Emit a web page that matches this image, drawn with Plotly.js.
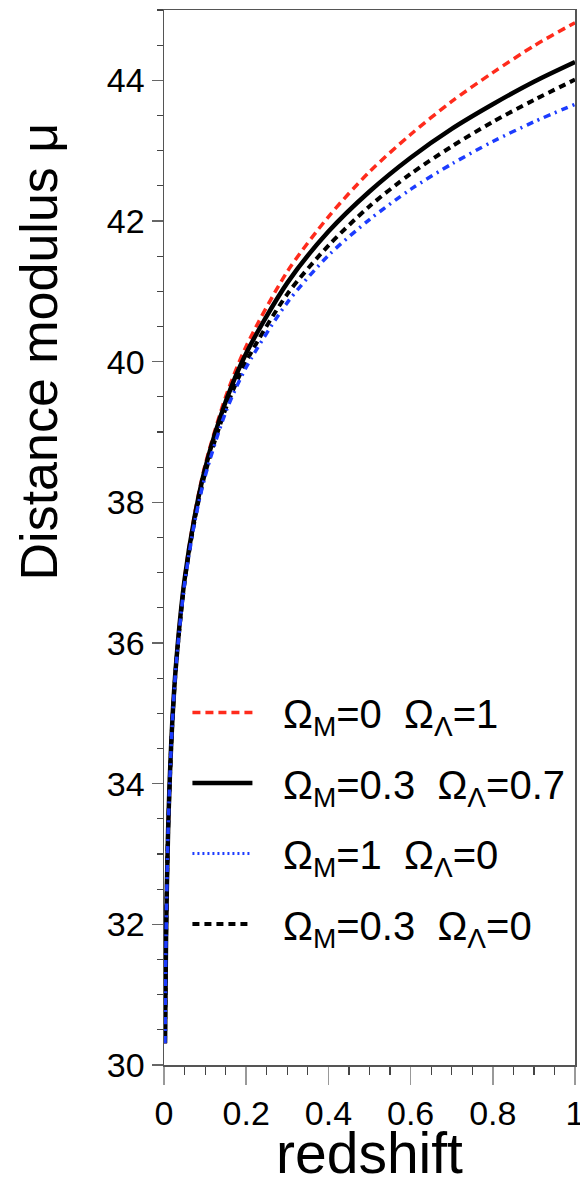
<!DOCTYPE html>
<html>
<head>
<meta charset="utf-8">
<script src="https://cdn.plot.ly/plotly-3.0.1.min.js"></script>
<style>html,body{margin:0;padding:0;background:#fff;}#chart{width:580px;height:1178px;}</style>
</head>
<body>
<div id="chart"></div>
<script>
// redshift sample points
var redshift = [0.0025, 0.005, 0.01, 0.02, 0.03, 0.05, 0.075, 0.1, 0.15, 0.2, 0.3, 0.4, 0.5, 0.6, 0.7, 0.8, 0.9, 1.0];
// distance modulus for each cosmology
var muM0L1   = [30.31, 31.82, 33.34, 34.87, 35.77, 36.92, 37.85, 38.53, 39.50, 40.22, 41.28, 42.06, 42.70, 43.23, 43.70, 44.11, 44.49, 44.82];
var muM03L07 = [30.31, 31.82, 33.34, 34.86, 35.75, 36.90, 37.81, 38.48, 39.43, 40.12, 41.12, 41.85, 42.42, 42.90, 43.31, 43.66, 43.98, 44.26];
var muM1L0   = [30.31, 31.82, 33.33, 34.84, 35.72, 36.84, 37.73, 38.37, 39.28, 39.92, 40.84, 41.51, 42.02, 42.45, 42.81, 43.13, 43.41, 43.66];
var muM03L0  = [30.31, 31.82, 33.33, 34.84, 35.73, 36.86, 37.76, 38.41, 39.33, 40.00, 40.96, 41.65, 42.21, 42.67, 43.06, 43.41, 43.72, 44.01];
var seriesNames = [
  "\u00a0\u00a0\u200a\u03A9<sub>M</sub>=0\u00a0\u00a0\u03A9<sub>\u039B</sub>=1",
  "\u00a0\u00a0\u200a\u03A9<sub>M</sub>=0.3\u00a0\u00a0\u03A9<sub>\u039B</sub>=0.7",
  "\u00a0\u00a0\u200a\u03A9<sub>M</sub>=1\u00a0\u00a0\u03A9<sub>\u039B</sub>=0",
  "\u00a0\u00a0\u200a\u03A9<sub>M</sub>=0.3\u00a0\u00a0\u03A9<sub>\u039B</sub>=0"
];
var xTickVals = [0, 0.2, 0.4, 0.6, 0.8, 1];
var xTickText = ["0", "0.2", "0.4", "0.6", "0.8", "1"];
var yTickVals = [30, 32, 34, 36, 38, 40, 42, 44];

var RED = "#ff2b1c", BLUE = "#1c3cff";
var FONT = "Liberation Sans, Arial, Helvetica, sans-serif";

var traces = [
  {x: redshift, y: muM0L1, name: seriesNames[0], mode: "lines", legendgroup: "a",
   line: {color: RED, width: 3.5, dash: "8px,5px", shape: "spline", smoothing: 0.8}},
  {x: redshift, y: muM03L07, name: seriesNames[1], mode: "lines", legendgroup: "b",
   line: {color: "#000", width: 4.5, shape: "spline", smoothing: 0.8}},
  {x: [null], y: [null], name: seriesNames[2], mode: "lines", legendgroup: "c",
   line: {color: BLUE, width: 3, dash: "2px,3px"}},
  {x: redshift, y: muM03L0, name: seriesNames[3], mode: "lines", legendgroup: "d",
   line: {color: "#000", width: 4, dash: "7px,5px", shape: "spline", smoothing: 0.8}},
  {x: redshift, y: muM1L0, name: seriesNames[2], mode: "lines", showlegend: false, legendgroup: "c",
   line: {color: BLUE, width: 3.5, dash: "7px,5px,2px,5px", shape: "spline", smoothing: 0.8}}
];

var axisCommon = {
  showline: true, linecolor: "#555", linewidth: 1.5, mirror: true,
  showgrid: false, zeroline: false, ticks: "outside", tickcolor: "#444",
  tickfont: {family: FONT, size: 34, color: "#000"}, ticklabeloverflow: "allow"
};

var layout = {
  width: 580, height: 1178,
  margin: {l: 164, r: 5, t: 10, b: 113},
  paper_bgcolor: "#fff", plot_bgcolor: "#fff",
  font: {family: FONT, color: "#000"},
  showlegend: true,
  legend: {
    x: 0.057, y: 0.365, xanchor: "left", yanchor: "top",
    bgcolor: "rgba(0,0,0,0)", borderwidth: 0,
    font: {family: FONT, size: 40, color: "#000"},
    itemwidth: 60, tracegroupgap: 15.5, traceorder: "grouped"
  },
  xaxis: Object.assign({}, axisCommon, {
    range: [0, 1], tickvals: xTickVals, ticktext: xTickText,
    ticklen: 18, tickcolor: "#999", tickwidth: 1.5,
    minor: {dtick: 0.05, ticklen: 8, tickcolor: "#444", ticks: "outside", tickwidth: 1.2}
  }),
  yaxis: Object.assign({}, axisCommon, {
    range: [30, 45], tickvals: yTickVals,
    ticklen: 11, tickcolor: "#666", tickwidth: 1.5,
    minor: {dtick: 0.5, ticklen: 6, tickcolor: "#444", ticks: "outside", tickwidth: 1.2}
  }),
  annotations: [
    {text: "Distance modulus \u03BC", xref: "paper", yref: "paper", x: -0.305, y: 0.676,
     xanchor: "center", yanchor: "middle", textangle: -90, showarrow: false,
     font: {family: FONT, size: 52, color: "#000"}},
    {text: "redshift", xref: "paper", yref: "paper", x: 0.5, y: -0.0834,
     xanchor: "center", yanchor: "middle", showarrow: false,
     font: {family: FONT, size: 57, color: "#000"}}
  ]
};

Plotly.newPlot("chart", traces, layout, {displayModeBar: false, staticPlot: true});
</script>
</body>
</html>
